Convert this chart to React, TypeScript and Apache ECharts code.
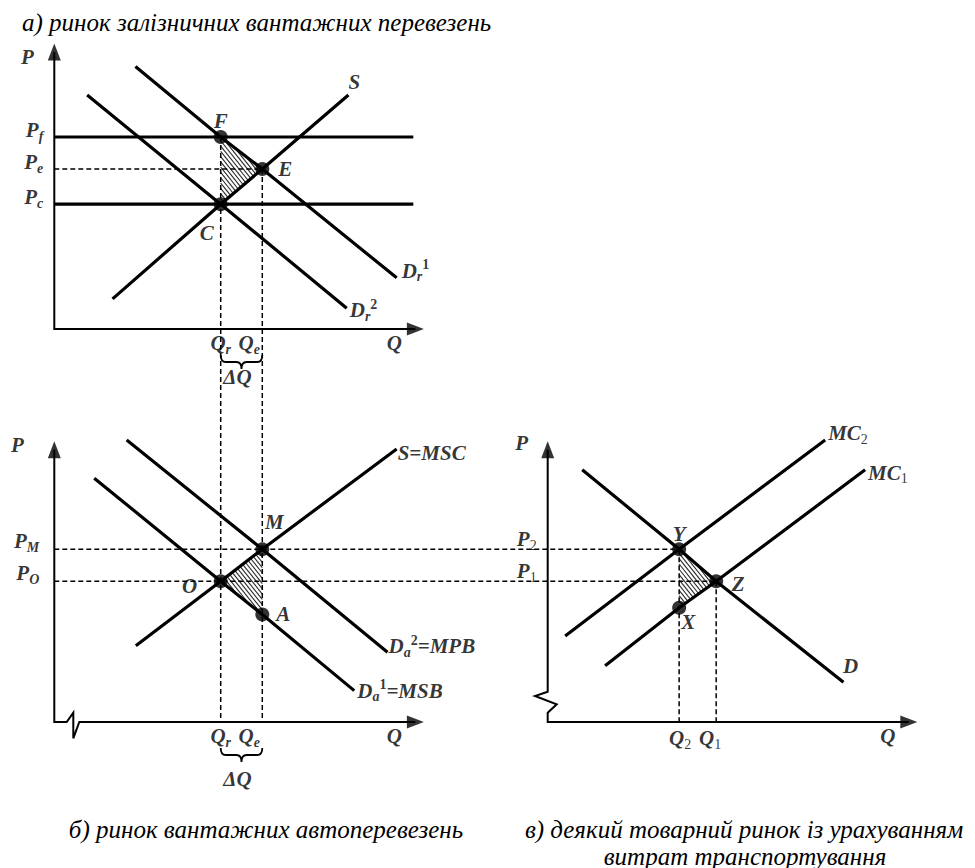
import React, { useEffect, useRef } from 'react';
import * as echarts from 'echarts';

// ================= DATA (abstract units: quantity Q, price P) =================
// а) rail freight market
const railPriceNames = ['f', 'e', 'c'];
const railPrices = [6.0, 5.0, 3.9]; // P_f, P_e, P_c
const railQtyNames = ['r', 'e'];
const railQuantities = [4.0, 5.0]; // Q_r, Q_e
const railSupply = [[1.4, 0.94], [4.0, 3.9], [5.0, 5.0], [7.07, 7.31]];
const railDemand1 = [[1.95, 8.2], [4.0, 6.0], [5.0, 5.0], [8.23, 1.6]];
const railDemand2 = [[0.79, 7.31], [4.0, 3.9], [7.03, 0.65]];
const railPriceLineEnd = 8.63;
const railPointNames = ['F', 'E', 'C'];
const railPoints = [[4.0, 6.0], [5.0, 5.0], [4.0, 3.9]];

// б) road freight market
const roadPriceNames = ['M', 'O'];
const roadPrices = [5.4, 4.4]; // P_M, P_O
const roadQtyNames = ['r', 'e'];
const roadQuantities = [4.0, 5.0]; // Q_r, Q_e
const roadSupply = [[1.96, 2.38], [4.0, 4.4], [5.0, 5.4], [8.23, 8.53]];
const roadDemand2 = [[1.74, 8.81], [5.0, 5.4], [8.01, 2.18]];
const roadDemand1 = [[0.96, 7.62], [4.0, 4.4], [5.0, 3.36], [7.21, 0.98]];
const roadPointNames = ['M', 'O', 'A'];
const roadPoints = [[5.0, 5.4], [4.0, 4.4], [5.0, 3.36]];

// в) goods market incl. transport costs
const goodsPriceNames = ['2', '1'];
const goodsPrices = [5.4, 4.4]; // P_2, P_1
const goodsQtyNames = ['2', '1'];
const goodsQuantities = [3.16, 4.05]; // Q_2, Q_1
const goodsMC2 = [[0.42, 2.69], [3.16, 5.4], [6.67, 8.81]];
const goodsMC1 = [[1.38, 1.76], [3.16, 3.57], [4.05, 4.4], [7.63, 7.88]];
const goodsDemand = [[0.83, 7.88], [3.16, 5.4], [4.05, 4.4], [7.11, 1.24]];
const goodsPointNames = ['Y', 'Z', 'X'];
const goodsPoints = [[3.16, 5.4], [4.05, 4.4], [3.16, 3.57]];

const titleA = 'а) ринок залізничних вантажних перевезень';
const titleB = 'б) ринок вантажних автоперевезень';
const titleC1 = 'в) деякий товарний ринок із урахуванням';
const titleC2 = 'витрат транспортування';

// ================= LAYOUT =================
const W = 975;
const H = 868;
const UX = 41.6; // px per quantity unit
const UY = 32; // px per price unit
const PANEL_A = { x: 54.3, y: 329, pTop: 8.66 };
const PANEL_B = { x: 54.3, y: 722, pTop: 8.51 };
const PANEL_C = { x: 547.7, y: 722, pTop: 8.51 };
const Q_END = 8.68;
const BREAK_X_PX = [[12.4, 0], [19, 9.3], [19, -16.3], [25, 0]];
const BREAK_Y_PX = [[0, 30.3], [-12.7, 26], [9, 17.7], [0, 9.3]];
const HATCH_GAP = 3.3;
const FONT = 'Liberation Serif, Times New Roman, serif';
const BLACK = '#000';

type Panel = { x: number; y: number; pTop: number };
const g = (pn: Panel, q: number, p: number) => [pn.x / UX + q, (H - pn.y) / UY + p];
const gp = (pn: Panel, pt: number[]) => g(pn, pt[0], pt[1]);

const rich = {
  m: { fontFamily: FONT, fontSize: 21, fontWeight: 'bold', fontStyle: 'italic', color: BLACK, lineHeight: 26 },
  s: { fontFamily: FONT, fontSize: 14, fontWeight: 'bold', fontStyle: 'italic', color: BLACK, lineHeight: 10, verticalAlign: 'bottom' },
  d: { fontFamily: FONT, fontSize: 14, fontWeight: 'normal', color: BLACK, lineHeight: 10, verticalAlign: 'bottom' },
  p: { fontFamily: FONT, fontSize: 14, fontWeight: 'bold', color: BLACK, lineHeight: 12, verticalAlign: 'top' },
};

function hatchRender(_params: any, api: any) {
  const pts = [0, 1, 2].map((i) => api.coord([api.value(2 * i), api.value(2 * i + 1)]));
  const len = Math.hypot(1, 1.25);
  const ux = 1 / len;
  const uy = 1.25 / len;
  const nx = -uy;
  const ny = ux;
  const s = pts.map((p: number[]) => p[0] * nx + p[1] * ny);
  const smin = Math.min(...s);
  const smax = Math.max(...s);
  const children: any[] = [];
  for (let c = smin + HATCH_GAP / 2; c < smax; c += HATCH_GAP) {
    const hits: number[][] = [];
    for (let i = 0; i < 3; i++) {
      const a = pts[i];
      const b = pts[(i + 1) % 3];
      const sa = s[i] - c;
      const sb = s[(i + 1) % 3] - c;
      if ((sa <= 0 && sb > 0) || (sa > 0 && sb <= 0)) {
        const t = sa / (sa - sb);
        hits.push([a[0] + t * (b[0] - a[0]), a[1] + t * (b[1] - a[1])]);
      }
    }
    if (hits.length >= 2) {
      children.push({
        type: 'line',
        shape: { x1: hits[0][0], y1: hits[0][1], x2: hits[1][0], y2: hits[1][1] },
        style: { stroke: '#2a2a2a', lineWidth: 1.1 },
      });
    }
  }
  return { type: 'group', children };
}

function braceRender(_params: any, api: any) {
  const a = api.coord([api.value(0), api.value(2)]);
  const b = api.coord([api.value(1), api.value(2)]);
  const x1 = a[0];
  const x2 = b[0];
  const xm = (x1 + x2) / 2;
  const y0 = a[1];
  const yE = y0 + 26;
  const yB = y0 + 33;
  const yT = y0 + 40;
  const d = `M${x1},${yE} Q${x1},${yB} ${x1 + 5},${yB} L${xm - 5},${yB} Q${xm},${yB} ${xm},${yT} Q${xm},${yB} ${xm + 5},${yB} L${x2 - 5},${yB} Q${x2},${yB} ${x2},${yE}`;
  return { type: 'path', shape: { pathData: d }, style: { fill: 'none', stroke: BLACK, lineWidth: 1.8 } };
}

function buildOption() {
  const A = PANEL_A;
  const B = PANEL_B;
  const C = PANEL_C;
  const series: any[] = [];

  const solid = (pts: number[][], w = 3.2, z = 3) => ({
    type: 'line', data: pts, symbol: 'none', silent: true, z,
    lineStyle: { color: BLACK, width: w, cap: 'butt', join: 'miter' },
  });
  const dashed = (pts: number[][]) => ({
    type: 'line', data: pts, symbol: 'none', silent: true, z: 2,
    lineStyle: { color: BLACK, width: 1.5, type: [5, 3] },
  });

  // hatched triangles
  series.push({
    type: 'custom', coordinateSystem: 'cartesian2d', silent: true, z: 1, clip: false,
    data: [
      [...gp(A, railPoints[0]), ...gp(A, railPoints[1]), ...gp(A, railPoints[2])],
      [...gp(B, roadPoints[1]), ...gp(B, roadPoints[0]), ...gp(B, roadPoints[2])],
      [...gp(C, goodsPoints[0]), ...gp(C, goodsPoints[1]), ...gp(C, goodsPoints[2])],
    ],
    renderItem: hatchRender,
  });

  // dashed guide lines
  series.push(dashed([g(A, 0, railPrices[1]), g(A, railQuantities[1], railPrices[1])]));
  series.push(dashed([g(A, railQuantities[0], railPrices[0]), g(B, roadQuantities[0], 0)]));
  series.push(dashed([g(A, railQuantities[1], railPrices[1]), g(B, roadQuantities[1], 0)]));
  series.push(dashed([g(B, 0, roadPrices[0]), g(C, goodsQuantities[0], goodsPrices[0])]));
  series.push(dashed([g(B, 0, roadPrices[1]), g(C, goodsQuantities[1], goodsPrices[1])]));
  series.push(dashed([g(C, goodsQuantities[0], goodsPrices[0]), g(C, goodsQuantities[0], 0)]));
  series.push(dashed([g(C, goodsQuantities[1], goodsPrices[1]), g(C, goodsQuantities[1], 0)]));

  // axes
  series.push(solid([g(A, 0, A.pTop), g(A, 0, 0), g(A, Q_END, 0)], 2));
  series.push(solid([
    g(B, 0, B.pTop), g(B, 0, 0),
    ...BREAK_X_PX.map((b) => g(B, b[0] / UX, b[1] / UY)),
    g(B, Q_END, 0),
  ], 2));
  series.push(solid([
    g(C, 0, C.pTop),
    ...BREAK_Y_PX.map((b) => g(C, b[0] / UX, b[1] / UY)),
    g(C, 0, 0), g(C, Q_END, 0),
  ], 2));

  // curves
  series.push(solid([g(A, 0, railPrices[0]), g(A, railPriceLineEnd, railPrices[0])]));
  series.push(solid([g(A, 0, railPrices[2]), g(A, railPriceLineEnd, railPrices[2])]));
  [railSupply, railDemand1, railDemand2].forEach((c) => series.push(solid(c.map((p) => gp(A, p)))));
  [roadSupply, roadDemand1, roadDemand2].forEach((c) => series.push(solid(c.map((p) => gp(B, p)))));
  [goodsMC2, goodsMC1, goodsDemand].forEach((c) => series.push(solid(c.map((p) => gp(C, p)))));

  // arrowheads
  series.push({
    type: 'scatter', silent: true, z: 4, symbol: 'triangle', symbolSize: [13, 17],
    itemStyle: { color: BLACK },
    data: [
      { value: g(A, 0, A.pTop), symbolRotate: 0 },
      { value: g(A, Q_END, 0), symbolRotate: -90 },
      { value: g(B, 0, B.pTop), symbolRotate: 0 },
      { value: g(B, Q_END, 0), symbolRotate: -90 },
      { value: g(C, 0, C.pTop), symbolRotate: 0 },
      { value: g(C, Q_END, 0), symbolRotate: -90 },
    ],
  });

  // equilibrium points
  series.push({
    type: 'scatter', silent: true, z: 5, symbol: 'circle', symbolSize: 14,
    itemStyle: { color: BLACK },
    data: [...railPoints.map((p) => gp(A, p)), ...roadPoints.map((p) => gp(B, p)), ...goodsPoints.map((p) => gp(C, p))],
  });

  // braces under Q_r..Q_e
  series.push({
    type: 'custom', coordinateSystem: 'cartesian2d', silent: true, z: 3, clip: false,
    data: [
      [g(A, railQuantities[0], 0)[0], g(A, railQuantities[1], 0)[0], g(A, 0, 0)[1]],
      [g(B, roadQuantities[0], 0)[0], g(B, roadQuantities[1], 0)[0], g(B, 0, 0)[1]],
    ],
    renderItem: braceRender,
  });

  // labels
  const L: any[] = [];
  const lab = (pos: number[], text: string, off: number[], align = 'center') =>
    L.push({ value: pos, label: { formatter: text, offset: off, align } });
  const end = (arr: number[][]) => arr[arr.length - 1];

  // panel а
  lab(g(A, 0, A.pTop), '{m|P}', [-27, 5]);
  railPrices.forEach((p, i) => lab(g(A, 0, p), `{m|P}{s|${railPriceNames[i]}}`, [-11, -7], 'right'));
  lab(g(A, Q_END, 0), '{m|Q}', [-21, 14]);
  lab(g(A, railQuantities[0], 0), `{m|Q}{s|${railQtyNames[0]}}`, [0, 14]);
  lab(g(A, railQuantities[1], 0), `{m|Q}{s|${railQtyNames[1]}}`, [-13, 14]);
  lab(g(A, (railQuantities[0] + railQuantities[1]) / 2, 0), '{m|ΔQ}', [-4, 48]);
  const offA = [[0, -16], [23, 0], [-14, 29]];
  railPoints.forEach((p, i) => lab(gp(A, p), `{m|${railPointNames[i]}}`, offA[i]));
  lab(gp(A, end(railSupply)), '{m|S}', [6, -13]);
  lab(gp(A, end(railDemand1)), '{m|D}{s|r}{p|1}', [5, -7], 'left');
  lab(gp(A, end(railDemand2)), '{m|D}{s|r}{p|2}', [3, 2], 'left');

  // panel б
  lab(g(B, 0, B.pTop), '{m|P}', [-37, -5]);
  roadPrices.forEach((p, i) => lab(g(B, 0, p), `{m|P}{s|${roadPriceNames[i]}}`, [-15, -8], 'right'));
  lab(g(B, Q_END, 0), '{m|Q}', [-21, 14]);
  lab(g(B, roadQuantities[0], 0), `{m|Q}{s|${roadQtyNames[0]}}`, [0, 14]);
  lab(g(B, roadQuantities[1], 0), `{m|Q}{s|${roadQtyNames[1]}}`, [-13, 14]);
  lab(g(B, (roadQuantities[0] + roadQuantities[1]) / 2, 0), '{m|ΔQ}', [-4, 57]);
  const offB = [[12, -27], [-31, 5], [21, 0]];
  roadPoints.forEach((p, i) => lab(gp(B, p), `{m|${roadPointNames[i]}}`, offB[i]));
  lab(gp(B, end(roadSupply)), '{m|S=MSC}', [1, 4], 'left');
  lab(gp(B, end(roadDemand2)), '{m|D}{s|a}{p|2}{m|=MPB}', [1, -6], 'left');
  lab(gp(B, end(roadDemand1)), '{m|D}{s|a}{p|1}{m|=MSB}', [3, 0], 'left');

  // panel в
  lab(g(C, 0, C.pTop), '{m|P}', [-26, -7]);
  goodsPrices.forEach((p, i) => lab(g(C, 0, p), `{m|P}{d|${goodsPriceNames[i]}}`, [-11, -10], 'right'));
  lab(g(C, Q_END, 0), '{m|Q}', [-21, 14]);
  lab(g(C, goodsQuantities[0], 0), `{m|Q}{d|${goodsQtyNames[0]}}`, [1, 16]);
  lab(g(C, goodsQuantities[1], 0), `{m|Q}{d|${goodsQtyNames[1]}}`, [-6, 16]);
  const offC = [[0, -15], [22, 3], [9, 14]];
  goodsPoints.forEach((p, i) => lab(gp(C, p), `{m|${goodsPointNames[i]}}`, offC[i]));
  lab(gp(C, end(goodsMC2)), '{m|MC}{d|2}', [3, -7], 'left');
  lab(gp(C, end(goodsMC1)), '{m|MC}{d|1}', [3, 3], 'left');
  lab(gp(C, end(goodsDemand)), '{m|D}', [7, -16]);

  series.push({
    type: 'scatter', silent: true, z: 6, symbol: 'circle', symbolSize: 1,
    itemStyle: { color: 'rgba(0,0,0,0)' },
    label: { show: true, position: 'inside', rich },
    data: L,
  });

  const tStyle = { fontFamily: FONT, fontStyle: 'italic', fontSize: 25, fill: BLACK };
  return {
    animation: false,
    backgroundColor: '#fff',
    grid: { left: 0, right: 0, top: 0, bottom: 0, containLabel: false },
    xAxis: { type: 'value', min: 0, max: W / UX, show: false },
    yAxis: { type: 'value', min: 0, max: H / UY, show: false },
    graphic: [
      { type: 'text', x: 22, y: 22, style: { ...tStyle, text: titleA, align: 'left', verticalAlign: 'middle' } },
      { type: 'text', x: 266, y: 829, style: { ...tStyle, text: titleB, align: 'center', verticalAlign: 'middle' } },
      { type: 'text', x: 744, y: 829, style: { ...tStyle, text: titleC1, align: 'center', verticalAlign: 'middle' } },
      { type: 'text', x: 745, y: 856, style: { ...tStyle, text: titleC2, align: 'center', verticalAlign: 'middle' } },
    ],
    series,
  };
}

export default function App() {
  const ref = useRef<HTMLDivElement>(null);
  useEffect(() => {
    const chart = echarts.init(ref.current as HTMLDivElement, null, { renderer: 'svg' });
    chart.setOption(buildOption() as any);
    return () => chart.dispose();
  }, []);
  return <div ref={ref} style={{ position: 'absolute', left: 0, top: 0, width: W, height: H, background: '#fff' }} />;
}
